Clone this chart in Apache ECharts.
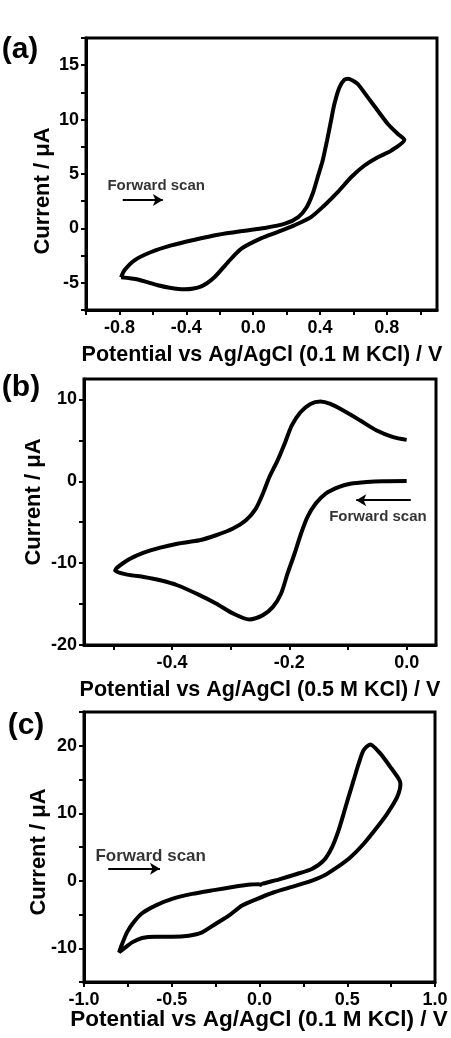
<!DOCTYPE html>
<html>
<head>
<meta charset="utf-8">
<script src="https://cdn.jsdelivr.net/npm/echarts@6/dist/echarts.min.js"></script>
<style>
html,body{margin:0;padding:0;background:#fff;}
#chart{width:451px;height:1038px;}
</style>
</head>
<body>
<div id="chart"></div>
<script>
// ---------- Panel (a): 0.1 M KCl ----------
const aPotential = [-0.79,-0.77,-0.71,-0.61,-0.49,-0.35,-0.21,-0.07,0.07,0.19,0.27,0.32,0.356,0.386,0.416,0.442,0.466,0.486,0.516,0.545,0.566,0.595,0.626,0.686,0.746,0.806,0.866,0.905,
  0.826,0.746,0.666,0.586,0.506,0.426,0.346,0.246,0.146,0.05,-0.07,-0.15,-0.23,-0.31,-0.41,-0.50,-0.57,-0.69,-0.79];
const aCurrent = [-4.50,-3.85,-2.93,-2.17,-1.56,-1.04,-0.58,-0.25,0.04,0.43,1.04,1.95,3.18,4.70,6.24,8.07,9.90,11.43,12.96,13.65,13.75,13.60,13.27,12.04,10.82,9.60,8.68,8.15,
  7.15,6.54,5.78,4.70,3.33,2.11,1.04,0.28,-0.34,-0.90,-1.86,-3.09,-4.46,-5.32,-5.59,-5.45,-5.23,-4.70,-4.50];
const aXTicks = [-1.0,-0.8,-0.6,-0.4,-0.2,0.0,0.2,0.4,0.6,0.8,1.0];
const aXLabels = [-0.8,-0.4,0.0,0.4,0.8];
const aYTicks = [-7.5,-5,-2.5,0,2.5,5,7.5,10,12.5,15,17.5];
const aYLabels = [-5,0,5,10,15];

// ---------- Panel (b): 0.5 M KCl ----------
const bPotential = [0.0,-0.04,-0.068,-0.096,-0.115,-0.138,-0.155,-0.169,-0.18,-0.191,-0.203,-0.214,-0.228,-0.245,-0.268,-0.296,-0.325,-0.353,-0.391,-0.42,-0.448,-0.476,-0.497,
  -0.476,-0.448,-0.42,-0.391,-0.353,-0.325,-0.296,-0.274,-0.257,-0.245,-0.234,-0.22,-0.207,-0.196,-0.181,-0.164,-0.147,-0.13,-0.108,-0.079,-0.051,-0.023,0.0];
const bCurrent = [0.05,0.02,-0.08,-0.3,-0.69,-1.5,-2.72,-4.35,-6.38,-8.82,-11.26,-13.7,-15.34,-16.35,-16.87,-16.14,-14.92,-13.9,-12.7,-12.09,-11.69,-11.4,-10.9,
  -9.65,-8.72,-8.11,-7.62,-7.2,-6.59,-5.77,-4.76,-3.33,-1.5,0.52,2.56,4.78,6.81,8.43,9.45,9.74,9.45,8.64,7.42,6.2,5.39,5.06];
const bXTicks = [-0.5,-0.4,-0.3,-0.2,-0.1,0.0];
const bXLabels = [-0.4,-0.2,0.0];
const bYTicks = [-20,-15,-10,-5,0,5,10];
const bYLabels = [-20,-10,0,10];

// ---------- Panel (c): 0.1 M KCl ----------
const cPotential = [0.0,0.005,0.022,0.117,0.213,0.298,0.365,0.413,0.45,0.479,0.507,0.536,0.565,0.593,0.631,0.689,0.746,0.793,0.803,
  0.784,0.727,0.67,0.593,0.517,0.441,0.365,0.27,0.174,0.079,-0.016,-0.099,-0.175,-0.251,-0.327,-0.403,-0.498,-0.593,-0.669,-0.726,-0.764,-0.80,
  -0.783,-0.755,-0.717,-0.669,-0.593,-0.498,-0.384,-0.251,-0.137,-0.05,0.0];
const cCurrent = [-0.85,-0.55,-0.40,0.25,1.0,1.74,2.97,4.95,7.43,9.91,12.38,14.86,17.34,19.32,20.2,18.83,16.84,15.11,14.37,
  12.38,9.91,7.92,5.45,3.46,1.98,0.74,-0.25,-0.99,-1.74,-2.72,-3.68,-5.17,-6.4,-7.64,-8.14,-8.29,-8.29,-8.48,-9.13,-9.87,-10.6,
  -9.38,-7.64,-6.16,-4.82,-3.68,-2.69,-1.95,-1.35,-0.86,-0.55,-0.5];
const cXTicks = [-1.0,-0.75,-0.5,-0.25,0.0,0.25,0.5,0.75,1.0];
const cXLabels = [-1.0,-0.5,0.0,0.5,1.0];
const cYTicks = [-15,-10,-5,0,5,10,15,20,25];
const cYLabels = [-10,0,10,20];

// ---------- texts ----------
const panelLetters = ['(a)','(b)','(c)'];
const xTitles = ['Potential vs Ag/AgCl (0.1 M KCl) / V','Potential vs Ag/AgCl (0.5 M KCl) / V','Potential vs Ag/AgCl (0.1 M KCl) / V'];
const yTitle = 'Current / \u03bcA';
const arrowText = 'Forward scan';
// arrow [x1,y1,x2,y2] and text anchor in data units
const aArrow = [-0.78,2.6,-0.54,2.6], aArrowLabel = [-0.58,3.94];
const bArrow = [0.007,-2.3,-0.086,-2.3], bArrowLabel = [-0.049,-4.39];
const cArrow = [-0.862,1.78,-0.567,1.78], cArrowLabel = [-0.62,3.67];

const FONT = '"Liberation Sans", Arial, sans-serif';
function pairs(xs, ys){ return xs.map((x,i)=>[x, ys[i]]); }

const grids = [
  {left:86, top:38, width:351, height:272},
  {left:84, top:379, width:352, height:266},
  {left:84, top:712, width:351, height:270}
];
const xr = [[-1.0,1.1],[-0.55,0.05],[-1.0,1.0]];
const yr = [[-7.5,17.5],[-20,12.5],[-15,25]];
const xt = [[aXTicks,aXLabels],[bXTicks,bXLabels],[cXTicks,cXLabels]];
const yt = [[aYTicks,aYLabels],[bYTicks,bYLabels],[cYTicks,cYLabels]];

function axis(type, gi){
  const r = type==='x'? xr[gi] : yr[gi];
  const t = type==='x'? xt[gi] : yt[gi];
  return {
    type:'value', gridIndex:gi, min:r[0], max:r[1],
    axisLine:{show:true, onZero:false, lineStyle:{color:'#000', width:3}},
    axisTick:{show:true, inside:false, length:5, lineStyle:{color:'#000', width:2}, customValues:t[0]},
    axisLabel:{show:true, customValues:t[1], margin: type==='x'?9:7, color:'#000', fontWeight:'bold', fontSize:18, fontFamily:FONT,
      formatter: v => type==='x' ? Number(v).toFixed(1) : String(Math.round(v))},
    splitLine:{show:false}
  };
}

function cvSeries(gi, xs, ys, arrow, lab, fs){
  return [{
    type:'line', xAxisIndex:gi, yAxisIndex:gi, data:pairs(xs,ys), showSymbol:false, symbol:'none',
    smooth:0.25, lineStyle:{color:'#000', width:4}, silent:true, animation:false,
    markLine:{silent:true, animation:false, symbol:['none','arrow'], symbolSize:[9,10],
      lineStyle:{color:'#000', width:2, type:'solid'}, label:{show:false},
      data:[[{coord:[arrow[0],arrow[1]]},{coord:[arrow[2],arrow[3]]}]]}
  },{
    type:'scatter', xAxisIndex:gi, yAxisIndex:gi, data:[lab], symbolSize:0, silent:true, animation:false,
    label:{show:true, position:'inside', formatter:arrowText, color:'#000', fontWeight:'bold', fontSize:fs, fontFamily:FONT}
  }];
}

const textEl = (t,x,y,size,rot) => ({type:'text', x:x, y:y, rotation:rot||0, silent:true,
  style:{text:t, font:'bold '+size+'px '+FONT, fill:'#000', align:'center', verticalAlign:'middle'}});

const option = {
  animation:false,
  backgroundColor:'#fff',
  grid: grids.map(g => Object.assign({show:true, borderColor:'#000', borderWidth:3, backgroundColor:'transparent'}, g)),
  xAxis:[axis('x',0),axis('x',1),axis('x',2)],
  yAxis:[axis('y',0),axis('y',1),axis('y',2)],
  series:[].concat(
    cvSeries(0,aPotential,aCurrent,aArrow,aArrowLabel,15),
    cvSeries(1,bPotential,bCurrent,bArrow,bArrowLabel,15),
    cvSeries(2,cPotential,cCurrent,cArrow,cArrowLabel,17)
  ),
  graphic:[
    textEl(panelLetters[0],20,50,30),
    textEl(panelLetters[1],21,388,30),
    textEl(panelLetters[2],26,726,30),
    textEl(xTitles[0],262,355,21.5),
    textEl(xTitles[1],260,690,21.5),
    textEl(xTitles[2],259,1020,22.5),
    textEl(yTitle,43,191,22,Math.PI/2),
    textEl(yTitle,34,502,22,Math.PI/2),
    textEl(yTitle,39,852,22,Math.PI/2)
  ]
};
const chart = echarts.init(document.getElementById('chart'), null, {renderer:'canvas'});
chart.setOption(option);
</script>
</body>
</html>
